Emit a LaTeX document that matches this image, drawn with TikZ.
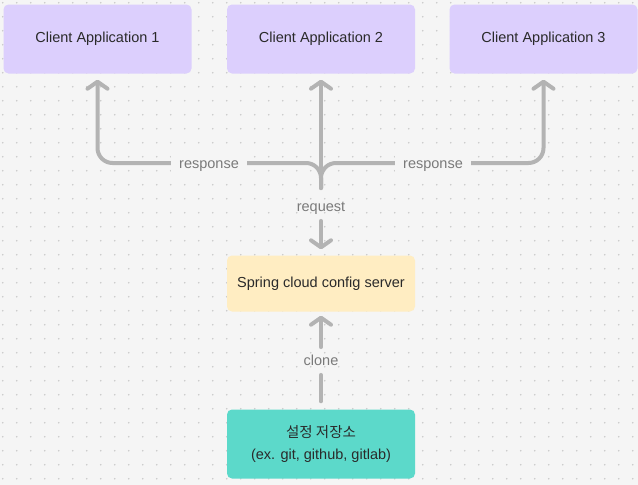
\documentclass[tikz,border=0pt]{standalone}
\usepackage{fontspec}
\setmainfont{Liberation Sans}
\newfontfamily\krfont{Noto Sans CJK KR}
\usetikzlibrary{arrows.meta}
\definecolor{bgc}{HTML}{F5F5F5}
\definecolor{dotc}{HTML}{C9C9C9}
\definecolor{purp}{HTML}{DCCFFD}
\definecolor{yel}{HTML}{FFEDC2}
\definecolor{teal2}{HTML}{5CD9CA}
\definecolor{arrc}{HTML}{B3B3B3}
\definecolor{txtc}{HTML}{2A2A2A}
\definecolor{lblc}{HTML}{7A7A7A}
\tikzset{
  box/.style={rounded corners=5pt, minimum width=188pt, inner sep=0pt, text=txtc,
    font=\fontsize{14.5}{22}\selectfont, align=center},
  client/.style={box, fill=purp, minimum height=69pt},
  server/.style={box, fill=yel, minimum height=56pt},
  repo/.style={box, fill=teal2, minimum height=69pt},
  lbl/.style={text=lblc, font=\fontsize{14.5}{17}\selectfont, inner xsep=8pt, inner ysep=5pt,
    text height=10.5pt, text depth=3pt},
  conn/.style={draw=arrc, line width=4pt, line cap=round, rounded corners=15pt},
  arr/.style={conn, -{Straight Barb[length=7pt, width=20pt, round]}, shorten >=6pt},
}
\begin{document}
\begin{tikzpicture}[x=1pt, y=-1pt]
\fill[bgc] (0,0) rectangle (638,485);
\useasboundingbox (0,0) rectangle (638,485);
\foreach \i in {0,...,45} {
  \foreach \j in {0,...,34} {
    \fill[dotc] (2.7+14*\i, 2.7+14*\j) circle (0.9);
  }
}
\node[client] (ca1) at (97.5,39) {Client Application 1};
\node[client] (ca2) at (321,39) {Client Application 2};
\node[client] (ca3) at (543.5,39) {Client Application 3};
\node[server] (srv) at (321,283.5) {Spring cloud config server};
\node[repo] (repo) at (321,444) {{\krfont 설정 저장소}\\(ex. git, github, gitlab)};

\coordinate (j) at (321,188);
\coordinate (h) at (0,163);
\draw[arr] (j) -- (j |- h) -- (ca1.south |- h) -- (ca1.south);
\draw[arr] (j) -- (j |- h) -- (ca3.south |- h) -- (ca3.south);
\draw[arr] (j) -- (ca2.south);
\node[lbl, fill=bgc] (r1) at (209,165) {response};
\node[lbl, fill=bgc] (r2) at (433,165) {response};

\node[lbl] (req) at (321,208) {request};
\draw[arr, shorten <=1pt] (req) -- (srv);

\node[lbl] (cl) at (321,362) {clone};
\draw[conn, shorten <=8pt, shorten >=1pt] (repo) -- (cl);
\draw[arr, shorten <=3pt, shorten >=4pt] (cl) -- (srv);
\end{tikzpicture}
\end{document}
